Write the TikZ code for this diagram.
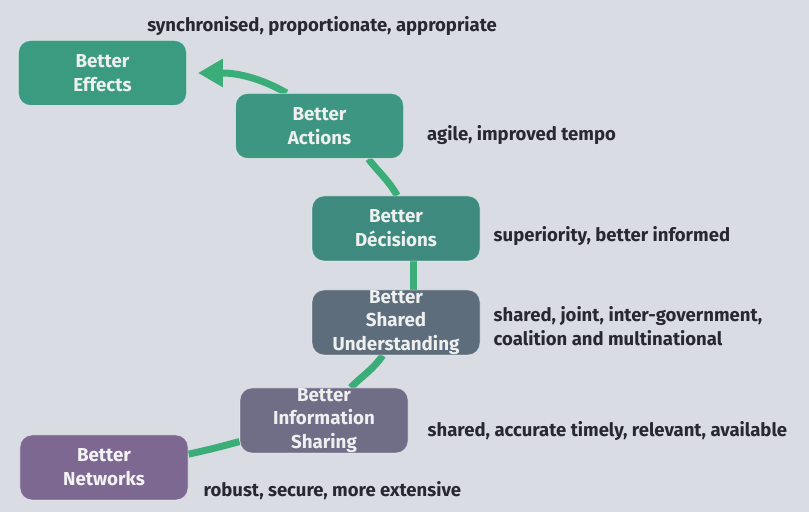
\documentclass[tikz,border=0pt]{standalone}
\usepackage{fontspec}
\setmainfont{Fira Sans}
\usetikzlibrary{positioning,arrows.meta,backgrounds}
\definecolor{bgcolor}{RGB}{217,220,227}
\definecolor{effcolor}{RGB}{58,155,128}
\definecolor{actcolor}{RGB}{61,150,129}
\definecolor{deccolor}{RGB}{63,138,126}
\definecolor{sharedcolor}{RGB}{94,109,123}
\definecolor{infocolor}{RGB}{112,109,135}
\definecolor{netcolor}{RGB}{125,104,145}
\definecolor{flowcolor}{RGB}{58,173,121}
\definecolor{boxtext}{RGB}{238,240,240}
\definecolor{notetext}{RGB}{40,40,50}
\pgfdeclarelayer{flow}
\pgfsetlayers{background,flow,main}

\begin{document}
\begin{tikzpicture}[%
    x=0.03cm, y=0.03cm,          % one unit per pixel of the sketch
    node distance=1cm and 1cm,   % boxes are placed by explicit offsets
    ]
\tikzset{
  base/.style={rectangle, on grid, align=center, rounded corners=0.36cm,
    minimum width=5.04cm, minimum height=1.95cm, inner ysep=0pt,
    draw=white, draw opacity=0.45, line width=0.8pt, text=boxtext,
    font=\fontsize{16pt}{20.4pt}\selectfont\bfseries},
  effbox/.style={base, fill=effcolor},
  actbox/.style={base, fill=actcolor},
  decbox/.style={base, fill=deccolor},
  sharedbox/.style={base, fill=sharedcolor},
  infobox/.style={base, fill=infocolor},
  netbox/.style={base, fill=netcolor, text=boxtext!90!netcolor!40!white},
  note/.style={align=left, inner sep=0pt, text=notetext,
    font=\fontsize{15.8pt}{20.4pt}\selectfont\bfseries},
  flow/.style={draw=flowcolor, line width=0.21cm},
}

\useasboundingbox (0,0) rectangle (809,512);
\begin{pgfonlayer}{background}
\fill [bgcolor] (0,0) rectangle (809,512);
\end{pgfonlayer}

\node [netbox] (net) at (104,44.5) {Better\\Networks};
\node [infobox, above right=1.41cm and 6.6cm of net] (info) {Better\\Information\\Sharing};
\node [sharedbox, above right=2.94cm and 2.16cm of info] (shared) {Better\\Shared\\Understanding};
\node [decbox, above=2.82cm of shared] (dec) {Better\\Décisions};
\node [actbox, above left=3.075cm and 2.295cm of dec] (act) {Better\\Actions};
\node [effbox, above left=1.59cm and 6.51cm of act] (eff) {Better\\Effects};

% notes beside the boxes
\node [note, above right=0.42cm and 3.87cm of eff.north west, anchor=west] (effnote) {synchronised, proportionate, appropriate};
\node [note, right=0.69cm of act.east, yshift=-0.27cm] (actnote) {agile, improved tempo};
\node [note, right=0.39cm of dec.east, yshift=-0.24cm] (decnote) {superiority, better informed};
\node [note, right=0.39cm of shared.east, yshift=-0.1cm] (sharednote) {shared, joint, inter-government,\\coalition and multinational};
\node [note, right=0.57cm of info.east, yshift=-0.33cm] (infonote) {shared, accurate timely, relevant, available};
\node [note, right=0.45cm of net.east, yshift=-0.7cm] (netnote) {robust, secure, more extensive};

%connect
\begin{pgfonlayer}{flow}
\draw [flow] (net.9) to[out=12, in=195] (info.194);
\draw [flow] (info.51) to[out=45, in=-125] (shared.248);
\draw [flow] (shared.62) -- (shared.62 |- dec.south);
\draw [flow] (dec.88) to[out=120, in=-52] (act.326);
\draw [flow, -{Triangle[length=0.75cm, width=0.81cm]}, shorten >=0.33cm]
  (act.135) to[out=150, in=0] (eff.east);
\end{pgfonlayer}

\end{tikzpicture}
\end{document}
